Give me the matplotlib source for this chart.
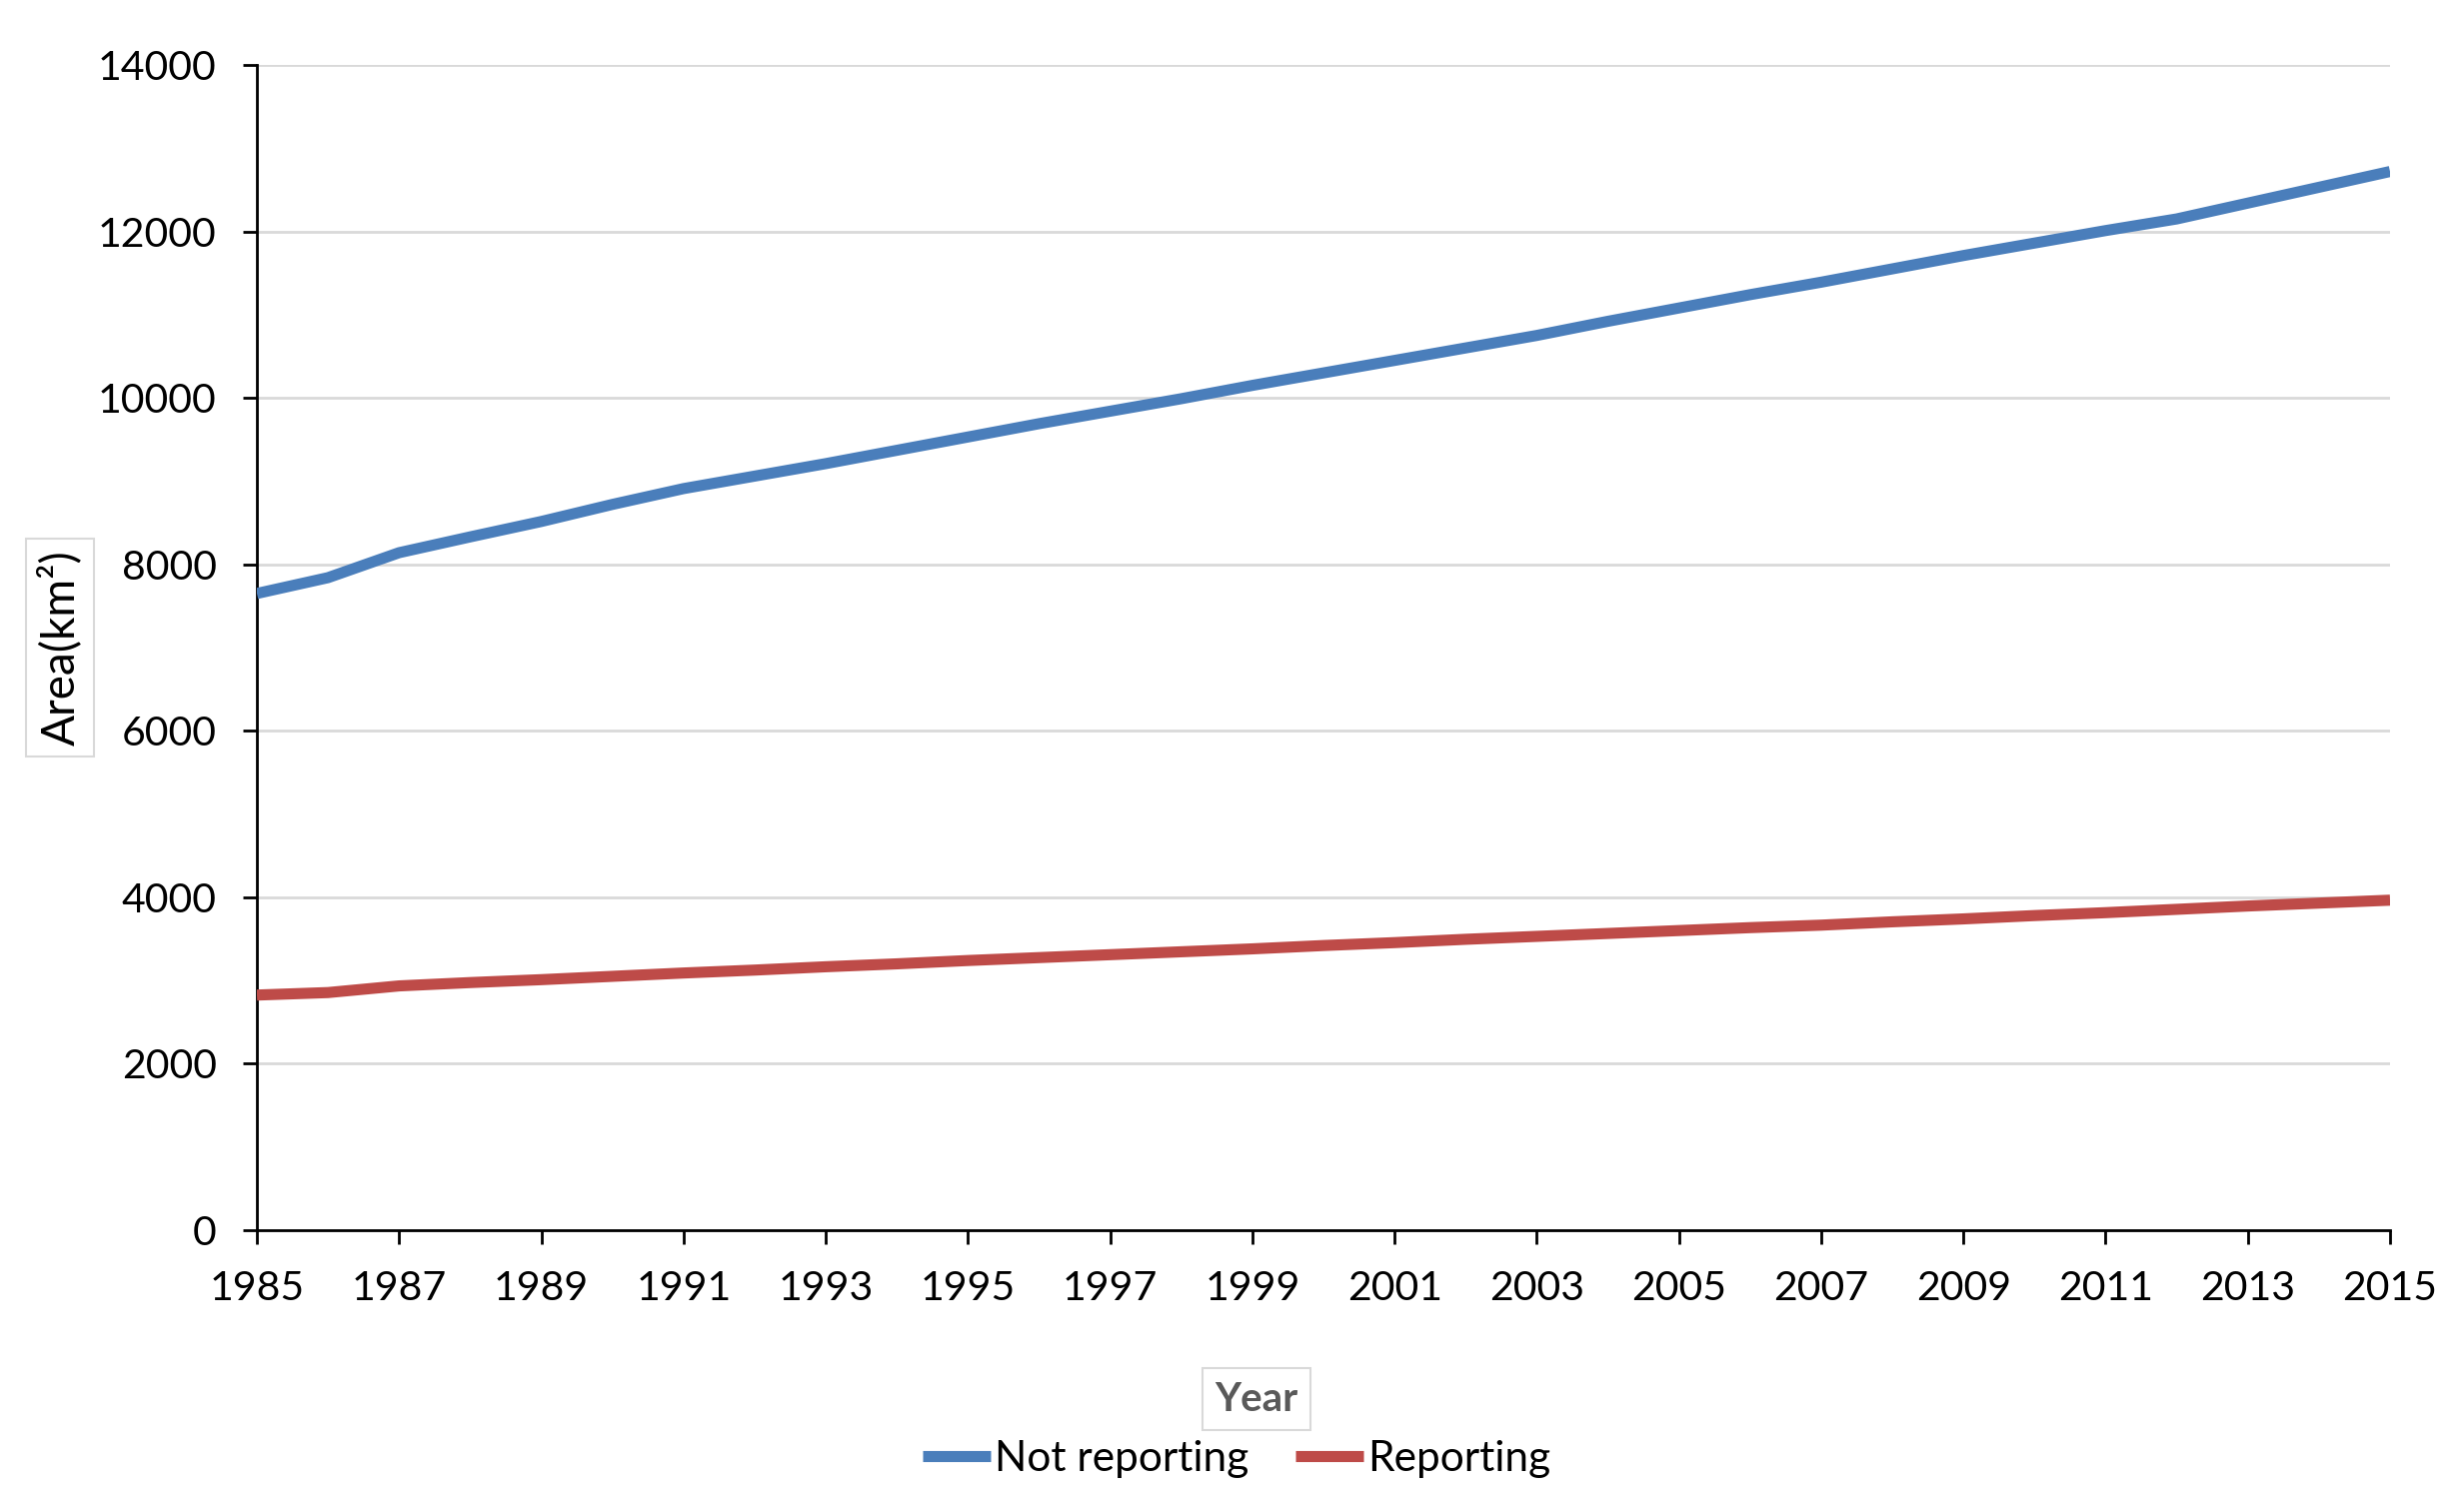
import matplotlib
matplotlib.use("Agg")
import matplotlib.pyplot as plt

years = list(range(1985, 2016))
not_reporting = [7650, 7840, 8140, 8330, 8515, 8720, 8910, 9060, 9210, 9370,
                 9530, 9690, 9840, 9990, 10150, 10300, 10450, 10600, 10750, 10920,
                 11080, 11240, 11390, 11550, 11710, 11860, 12010, 12150, 12340, 12530,
                 12720]
reporting = [2825, 2855, 2935, 2975, 3010, 3050, 3090, 3125, 3165, 3200,
             3240, 3275, 3310, 3345, 3380, 3420, 3455, 3495, 3530, 3565,
             3600, 3635, 3665, 3705, 3740, 3780, 3815, 3855, 3895, 3930,
             3965]
series_names = ["Not reporting", "Reporting"]
series_colors = ["#4A7EBB", "#BE4B48"]
xticks = list(range(1985, 2016, 2))
yticks = list(range(0, 14001, 2000))

plt.rcParams['font.family'] = ['Lato', 'DejaVu Sans']

W, H = 2455, 1513
fig = plt.figure(figsize=(W / 100, H / 100), dpi=100)
ax = fig.add_axes([257 / W, 1 - 1231 / H, (2391 - 257) / W, (1231 - 65) / H])

for vals, name, col in zip([not_reporting, reporting], series_names, series_colors):
    ax.plot(years, vals, color=col, lw=8, label=name, solid_joinstyle='round',
            solid_capstyle='butt', zorder=3)

ax.set_xlim(1985, 2015)
ax.set_ylim(0, 14000)
ax.set_xticks(xticks)
ax.set_yticks(yticks)
ax.set_xticklabels([str(x) for x in xticks])
ax.set_yticklabels([str(y) for y in yticks])
ax.grid(axis='y', color='#D9D9D9', lw=2, zorder=0)
ax.set_axisbelow(True)
for s in ['top', 'right']:
    ax.spines[s].set_visible(False)
for s in ['left', 'bottom']:
    ax.spines[s].set_linewidth(2)
    ax.spines[s].set_color('black')
ax.tick_params(axis='both', direction='out', length=10, width=2, labelsize=29.5,
               colors='black', pad=19)

fig.text(60 / W, 1 - 648 / H, "Area(km²)", rotation=90, ha='center', va='center',
         fontsize=33, color='black',
         bbox=dict(boxstyle='square,pad=0.25', fc='white', ec='#D9D9D9', lw=1.5))
fig.text(1257 / W, 1 - 1400 / H, "Year", ha='center', va='center',
         fontsize=29, fontweight='bold', color='#595959',
         bbox=dict(boxstyle='square,pad=0.3', fc='white', ec='#D9D9D9', lw=1.5))

fig.legend(loc='center', bbox_to_anchor=(1237 / W, 1 - 1460 / H), ncol=2,
           frameon=False, fontsize=30.5, handlelength=1.6, handletextpad=0.1,
           columnspacing=1.1)

fig.savefig("out.png", dpi=100, facecolor='white')
